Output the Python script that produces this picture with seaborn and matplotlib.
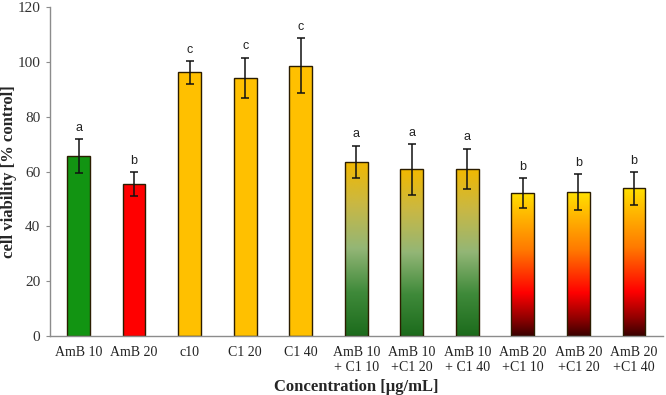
import numpy as np
import pandas as pd
import matplotlib
matplotlib.use("Agg")
import matplotlib.pyplot as plt
import seaborn as sns
from matplotlib.colors import LinearSegmentedColormap

categories = ["AmB 10", "AmB 20", "c10", "C1 20", "C1 40",
              "AmB 10\n+ C1 10", "AmB 10\n+C1 20", "AmB 10\n+ C1 40",
              "AmB 20\n+C1 10", "AmB 20\n+C1 20", "AmB 20\n+C1 40"]
viability = [65.6, 55.4, 96.2, 94.1, 98.7, 63.5, 60.8, 61.0, 52.2, 52.5, 53.9]
sd = [6.2, 4.4, 4.1, 7.4, 10.0, 5.9, 9.2, 7.3, 5.4, 6.5, 5.9]
letters = ["a", "b", "c", "c", "c", "a", "a", "a", "b", "b", "b"]
fill_kind = ["green", "red", "gold", "gold", "gold",
             "green_grad", "green_grad", "green_grad",
             "red_grad", "red_grad", "red_grad"]

solid = {"green": "#129412", "red": "#ff0000", "gold": "#ffc000",
         "green_grad": "#ffffff", "red_grad": "#ffffff"}
grad_maps = {
    "green_grad": LinearSegmentedColormap.from_list(
        "g", [(0, "#1c6b1c"), (0.25, "#3f8a3a"), (0.5, "#93b676"), (0.75, "#c8b845"), (1, "#f2b800")]),
    "red_grad": LinearSegmentedColormap.from_list(
        "r", [(0, "#3a0000"), (0.12, "#900000"), (0.3, "#ff0000"), (0.6, "#ff7a00"), (1, "#ffe000")]),
}

df = pd.DataFrame({"cat": categories, "val": viability, "kind": fill_kind})

sns.set_style("white")
plt.rcParams["font.family"] = ["Liberation Serif", "DejaVu Serif"]

fig = plt.figure(figsize=(6.66, 3.95), dpi=100)
ax = fig.add_axes([0.075, 0.149, 0.921, 0.833])

sns.barplot(data=df, x="cat", y="val", hue="cat", palette=[solid[k] for k in fill_kind],
            legend=False, width=0.41, edgecolor="#2b1d00", linewidth=1.0,
            saturation=1, errorbar=None, ax=ax, zorder=2)

grad = np.linspace(0, 1, 256).reshape(-1, 1)
for patch, kind in zip(ax.patches, fill_kind):
    if kind in grad_maps:
        x0, y0 = patch.get_x(), patch.get_y()
        w, h = patch.get_width(), patch.get_height()
        im = ax.imshow(grad, cmap=grad_maps[kind], origin="lower", aspect="auto",
                       extent=[x0, x0 + w, y0, y0 + h], zorder=2.5, interpolation="bicubic")
        im.set_clip_path(patch)
        patch.set_facecolor("none")
        patch.set_zorder(3)

xs = np.arange(len(categories))
ax.errorbar(xs, viability, yerr=sd, fmt="none", ecolor="#111111",
            elinewidth=1.1, capsize=3, capthick=1.1, zorder=4)

for x, v, s, l in zip(xs, viability, sd, letters):
    ax.text(x, v + s + 2.0, l, ha="center", va="bottom", fontsize=9,
            family=["Liberation Sans", "DejaVu Sans"], color="#222222")

ax.set_xlim(-0.515, 10.53)
ax.set_ylim(0, 120)
ax.set_yticks(range(0, 121, 20))
ax.tick_params(axis="y", labelsize=11, length=3, color="#8c8c8c", colors="#333333",
               direction="out", left=True, pad=4)
ax.tick_params(axis="x", labelsize=10, length=0, colors="#222222", pad=7)
for s in ["top", "right"]:
    ax.spines[s].set_visible(False)
for s in ["left", "bottom"]:
    ax.spines[s].set_color("#8c8c8c")
    ax.spines[s].set_linewidth(1.0)

ax.set_xlabel("Concentration [µg/mL]", fontsize=12, fontweight="bold", labelpad=4)
ax.set_ylabel("cell viability [% control]", fontsize=12, fontweight="bold")
ax.yaxis.set_label_coords(-0.053, 0.5)

fig.savefig("out.png", dpi=100)
